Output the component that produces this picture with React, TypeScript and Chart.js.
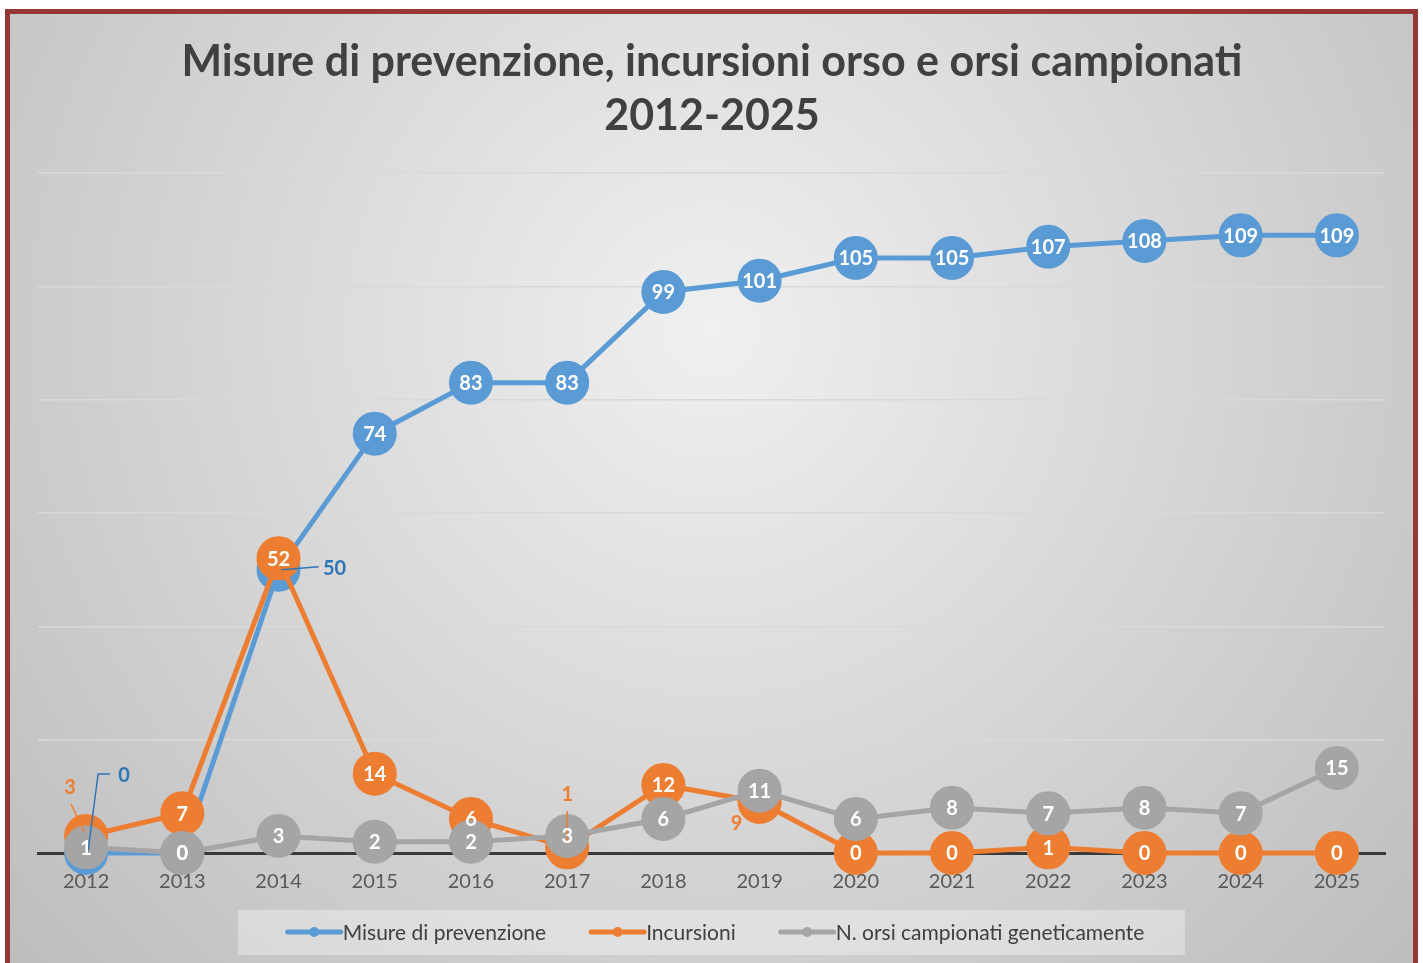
import React, { useEffect, useRef } from "react";
import { Chart, registerables } from "chart.js";

Chart.register(...registerables);

// ---- data ----
const years = ["2012", "2013", "2014", "2015", "2016", "2017", "2018", "2019", "2020", "2021", "2022", "2023", "2024", "2025"];
const misure = [0, 0, 50, 74, 83, 83, 99, 101, 105, 105, 107, 108, 109, 109];
const incursioni = [3, 7, 52, 14, 6, 1, 12, 9, 0, 0, 1, 0, 0, 0];
const orsi = [1, 0, 3, 2, 2, 3, 6, 11, 6, 8, 7, 8, 7, 15];
const seriesNames = ["Misure di prevenzione", "Incursioni", "N. orsi campionati geneticamente"];
const titleLines = ["Misure di prevenzione, incursioni orso e orsi campionati", "2012-2025"];
const yMin = 0;
const yMax = 120;
const yStep = 20;

// ---- style ----
const colors = ["#5b9bd5", "#ed7d31", "#a5a5a5"];
const FONT = "Lato, 'Open Sans', sans-serif";

// label offsets for labels moved outside their marker (dataset-index)
const labelOverrides: Record<string, { dx: number; dy: number; color: string; leader?: number[][] }> = {
  "0-0": { dx: 38, dy: -77, color: "#2e75b6", leader: [[2, -2], [12, -79], [24, -79]] },
  "1-0": { dx: -16, dy: -48, color: "#ed7d31", leader: [[-15, -32], [-2, -4]] },
  "0-2": { dx: 56, dy: -1, color: "#2e75b6", leader: [[3, 0], [40, -3]] },
  "1-5": { dx: 0, dy: -53, color: "#ed7d31", leader: [[0, -36], [0, -4]] },
  "1-7": { dx: -23, dy: 22, color: "#ed7d31" },
};

const bgPlugin = {
  id: "bgPlugin",
  beforeDraw(chart: any) {
    const { ctx, width, height } = chart;
    ctx.save();
    ctx.fillStyle = "#ffffff";
    ctx.fillRect(0, 0, width, height);
    const g = ctx.createRadialGradient(711, 330, 0, 711, 330, 950);
    g.addColorStop(0, "#f0f0f0");
    g.addColorStop(1, "#bdbdbd");
    ctx.fillStyle = g;
    ctx.fillRect(7, 11, 1409, height);
    ctx.strokeStyle = "#953735";
    ctx.lineWidth = 5;
    ctx.strokeRect(7.5, 11.5, 1408, height + 20);
    // title
    ctx.fillStyle = "#404040";
    ctx.font = `bold 43px ${FONT}`;
    ctx.textAlign = "center";
    ctx.textBaseline = "middle";
    ctx.fillText(titleLines[0], 712, 62);
    ctx.fillText(titleLines[1], 712, 116);
    ctx.restore();
  },
};

const labelsPlugin = {
  id: "labelsPlugin",
  afterDatasetsDraw(chart: any) {
    const { ctx } = chart;
    ctx.save();
    ctx.textAlign = "center";
    ctx.textBaseline = "middle";
    [0, 1, 2].forEach((di) => {
      const meta = chart.getDatasetMeta(di);
      const data = chart.data.datasets[di].data as number[];
      meta.data.forEach((pt: any, i: number) => {
        const key = `${di}-${i}`;
        const ov = labelOverrides[key];
        const txt = String(data[i]);
        if (ov) {
          if (ov.leader) {
            ctx.strokeStyle = ov.color;
            ctx.lineWidth = 1.5;
            ctx.beginPath();
            ov.leader.forEach((p, k) => {
              if (k === 0) ctx.moveTo(pt.x + p[0], pt.y + p[1]);
              else ctx.lineTo(pt.x + p[0], pt.y + p[1]);
            });
            ctx.stroke();
          }
          ctx.fillStyle = ov.color;
          ctx.font = `bold 20px ${FONT}`;
          ctx.fillText(txt, pt.x + ov.dx, pt.y + ov.dy);
        } else {
          ctx.fillStyle = "#ffffff";
          ctx.font = `bold 20px ${FONT}`;
          ctx.fillText(txt, pt.x, pt.y + 1);
        }
      });
    });
    ctx.restore();
  },
};

const legendPlugin = {
  id: "legendPlugin",
  afterDraw(chart: any) {
    const { ctx } = chart;
    ctx.save();
    ctx.fillStyle = "rgba(255,255,255,0.35)";
    ctx.fillRect(238, 910, 947, 45);
    ctx.font = `21px ${FONT}`;
    ctx.textBaseline = "middle";
    ctx.textAlign = "left";
    const lineLen = 53;
    const gapAfterLine = 2;
    const gapItems = 45;
    const widths = seriesNames.map((n) => lineLen + gapAfterLine + ctx.measureText(n).width);
    const total = widths.reduce((a, b) => a + b, 0) + gapItems * (seriesNames.length - 1);
    let x = 716 - total / 2;
    const y = 932;
    seriesNames.forEach((n, i) => {
      ctx.strokeStyle = colors[i];
      ctx.lineWidth = 5;
      ctx.lineCap = "round";
      ctx.beginPath();
      ctx.moveTo(x, y);
      ctx.lineTo(x + lineLen, y);
      ctx.stroke();
      ctx.fillStyle = colors[i];
      ctx.beginPath();
      ctx.arc(x + lineLen / 2, y, 5, 0, Math.PI * 2);
      ctx.fill();
      ctx.fillStyle = "#404040";
      ctx.fillText(n, x + lineLen + gapAfterLine, y + 1);
      x += widths[i] + gapItems;
    });
    ctx.restore();
  },
};

export default function App() {
  const ref = useRef<HTMLCanvasElement | null>(null);
  useEffect(() => {
    if (!ref.current) return;
    const series = [misure, incursioni, orsi];
    const chart = new Chart(ref.current, {
      type: "line",
      data: {
        labels: years,
        datasets: series.map((d, i) => ({
          label: seriesNames[i],
          data: d,
          borderColor: colors[i],
          backgroundColor: colors[i],
          pointBackgroundColor: colors[i],
          pointBorderColor: colors[i],
          borderWidth: 5,
          pointRadius: 21,
          pointBorderWidth: 2,
          pointHoverRadius: 21,
          tension: 0,
          clip: false as any,
          order: 3 - i,
        })),
      },
      options: {
        responsive: false,
        animation: false,
        layout: { padding: { left: 38, right: 38, top: 173, bottom: 52 } },
        plugins: {
          legend: { display: false },
          title: { display: false },
          tooltip: { enabled: false },
        },
        scales: {
          x: {
            offset: true,
            grid: { display: false, drawTicks: false },
            border: { display: true, color: "#3a3a3a", width: 3 },
            ticks: { color: "#595959", font: { family: FONT, size: 20 }, padding: 17, maxRotation: 0, autoSkip: false },
          },
          y: {
            min: yMin,
            max: yMax,
            ticks: { display: false, stepSize: yStep },
            grid: { color: "#d9d9d9", lineWidth: 1.5, drawTicks: false },
            border: { display: false },
          },
        },
      },
      plugins: [bgPlugin, labelsPlugin, legendPlugin],
    });
    return () => chart.destroy();
  }, []);
  return (
    <div style={{ position: "absolute", left: 0, top: 0, width: 1423, height: 963 }}>
      <canvas ref={ref} width={1423} height={963} style={{ display: "block" }} />
    </div>
  );
}
